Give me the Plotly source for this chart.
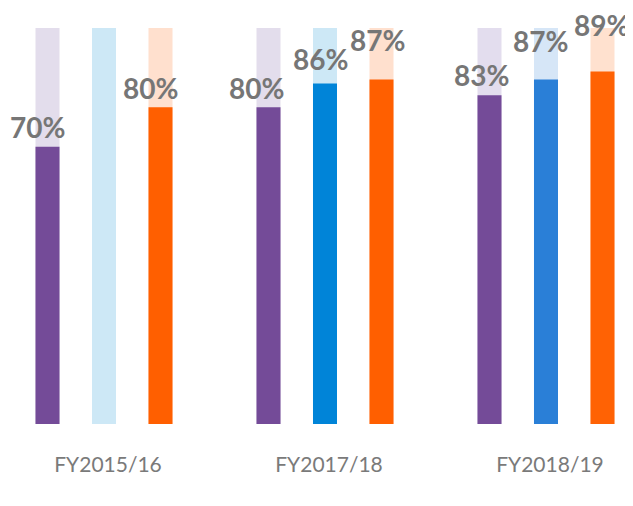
import plotly.graph_objects as go

categories = ["FY2015/16", "FY2017/18", "FY2018/19"]
purple_vals = [70, 80, 83]
blue_vals = [None, 86, 87]
orange_vals = [80, 87, 89]
full_vals = [100, 100, 100]
label_texts = {
    "purple": ["70%", "80%", "83%"],
    "blue": [None, "86%", "87%"],
    "orange": ["80%", "87%", "89%"],
}

# styles
purple_fg = ["#744B98", "#744B98", "#744B98"]
purple_bg = ["#E3DDEC", "#E3DDEC", "#E3DDEE"]
blue_fg = ["#0084D8", "#0084D8", "#2A7FD7"]
blue_bg = ["#CDE8F6", "#CDE8F6", "#D6E6F7"]
orange_fg = ["#FF5F00", "#FF5F00", "#FF6204"]
orange_bg = ["#FFE0CE", "#FFE0CE", "#FFE1CF"]

BARGAP = 0.233
BARGROUPGAP = 0.575

fig = go.Figure()
series = [
    ("purple", purple_vals, purple_fg, purple_bg),
    ("blue", blue_vals, blue_fg, blue_bg),
    ("orange", orange_vals, orange_fg, orange_bg),
]
for name, vals, fg, bg in series:
    fig.add_trace(go.Bar(x=categories, y=full_vals, offsetgroup=name,
                         marker=dict(color=bg, line=dict(width=0)),
                         hoverinfo="skip", showlegend=False))
    fig.add_trace(go.Bar(x=categories, y=vals, offsetgroup=name,
                         marker=dict(color=fg, line=dict(width=0)),
                         showlegend=False, name=name))

# label pixel offsets (dx, dy) relative to bar centre / bar top
label_offsets = {
    "purple": [(-10, 20), (-12, 19), (-8, 20)],
    "blue": [(0, 0), (-5, 24), (-5, 38)],
    "orange": [(-10, 19), (-4, 39), (-1, 47)],
}
slot = (1 - BARGAP) / 3
for bi, (name, vals, fg, bg) in enumerate(series):
    for gi, v in enumerate(vals):
        if v is None:
            continue
        dx, dy = label_offsets[name][gi]
        fig.add_annotation(
            x=gi + (bi - 1) * slot, y=v, xref="x", yref="y",
            text=label_texts[name][gi], showarrow=False,
            xshift=dx, yshift=dy,
            font=dict(family="Lato", size=28, color="#767676", weight="bold"),
        )

fig.update_layout(
    width=625, height=498,
    margin=dict(l=0, r=0, t=20, b=82),
    paper_bgcolor="white", plot_bgcolor="white",
    barmode="group", bargap=BARGAP, bargroupgap=BARGROUPGAP,
    xaxis=dict(range=[-0.4344, 2.3937], showgrid=False, zeroline=False,
               showline=False, ticks="", ticklabelstandoff=26,
               ticklabelshift=4,
               tickfont=dict(family="Lato", size=21, color="#7A7A7A")),
    yaxis=dict(range=[0, 100], visible=False, showgrid=False),
)

fig.write_html("out.html")
